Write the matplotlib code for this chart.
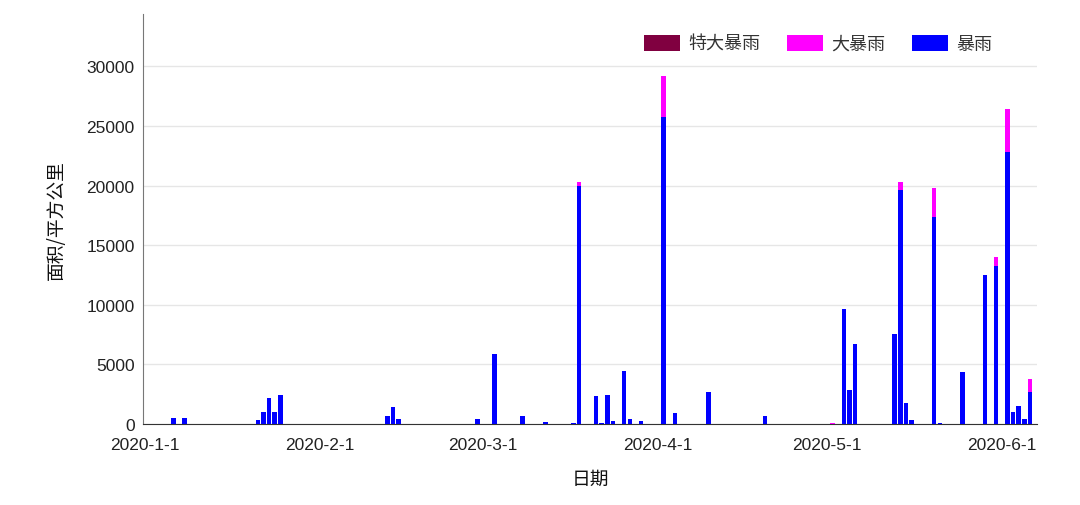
import pandas as pd
import matplotlib
matplotlib.use('Agg')
import matplotlib.pyplot as plt

# 日期 / 暴雨 / 大暴雨 / 特大暴雨 面积 (平方公里)
dates = ['2020-01-06', '2020-01-08', '2020-01-21', '2020-01-22', '2020-01-23',
         '2020-01-24', '2020-01-25', '2020-02-13', '2020-02-14', '2020-02-15',
         '2020-02-29', '2020-03-03', '2020-03-08', '2020-03-12', '2020-03-17',
         '2020-03-18', '2020-03-21', '2020-03-22', '2020-03-23', '2020-03-24',
         '2020-03-26', '2020-03-27', '2020-03-29', '2020-04-02', '2020-04-04',
         '2020-04-10', '2020-04-20', '2020-05-02', '2020-05-04', '2020-05-05',
         '2020-05-06', '2020-05-13', '2020-05-14', '2020-05-15', '2020-05-16',
         '2020-05-20', '2020-05-21', '2020-05-25', '2020-05-29', '2020-05-31',
         '2020-06-02', '2020-06-03', '2020-06-04', '2020-06-05', '2020-06-06']
baoyu = [480, 480, 300, 1000, 2200, 980, 2420, 700, 1450, 390,
         420, 5880, 670, 140, 100, 19950, 2320, 100, 2400, 230,
         4480, 420, 260, 25760, 900, 2710, 670, 0, 9680, 2880,
         6720, 7520, 19610, 1790, 330, 17350, 100, 4360, 12510, 13230,
         22820, 1030, 1510, 390, 2650]
dabaoyu = [0, 0, 0, 0, 0, 0, 0, 0, 0, 0,
           0, 0, 0, 0, 0, 340, 0, 0, 0, 0,
           0, 0, 0, 3440, 0, 0, 0, 60, 0, 0,
           0, 0, 680, 0, 0, 2490, 0, 0, 0, 790,
           3580, 0, 0, 0, 1150]
tedabaoyu = [0] * len(dates)

x_start = '2020-01-01'
x_end = '2020-06-07'
month_ticks = ['2020-01-01', '2020-02-01', '2020-03-01', '2020-04-01', '2020-05-01', '2020-06-01']

cjk = ['Noto Sans CJK SC', 'DejaVu Sans']
plt.rcParams['font.family'] = ['Liberation Sans', 'DejaVu Sans']

d = pd.to_datetime(dates)
bottom2 = [a + b for a, b in zip(baoyu, dabaoyu)]

fig = plt.figure(figsize=(10.8, 5.06), dpi=100)
ax = fig.add_axes([143 / 1080, 1 - 425 / 506, (1037 - 143) / 1080, (425 - 15) / 506])

w = 0.8
b1 = ax.bar(d, baoyu, width=w, color='#0000ff', label='暴雨', zorder=3)
b2 = ax.bar(d, dabaoyu, width=w, bottom=baoyu, color='#ff00ff', label='大暴雨', zorder=3)
b3 = ax.bar(d, tedabaoyu, width=w, bottom=bottom2, color='#800040', label='特大暴雨', zorder=3)

ax.set_xlim(pd.Timestamp(x_start) - pd.Timedelta(hours=9), pd.Timestamp(x_end) + pd.Timedelta(hours=6))
ax.set_ylim(0, 34400)
ax.set_yticks(range(0, 30001, 5000))
ticks = pd.to_datetime(month_ticks)
ax.set_xticks(ticks)
ax.set_xticklabels([f'{t.year}-{t.month}-{t.day}' for t in ticks])

ax.grid(axis='y', color='#e6e6e6', linewidth=1, zorder=0)
ax.spines['top'].set_visible(False)
ax.spines['right'].set_visible(False)
ax.spines['left'].set_color('#777777')
ax.spines['bottom'].set_color('#333333')
ax.tick_params(axis='both', length=0, labelsize=12.5, colors='#222222')
ax.tick_params(axis='y', pad=6)
ax.tick_params(axis='x', pad=9)

ax.set_xlabel('日期', family=cjk, fontsize=13.5, color='#111111', labelpad=12)
ax.set_ylabel('面积/平方公里', family=cjk, fontsize=13.5, color='#111111', labelpad=14)

leg = fig.legend([b3, b2, b1], ['特大暴雨', '大暴雨', '暴雨'], loc='center',
                 bbox_to_anchor=(818 / 1080, 1 - 45 / 506), ncol=3, frameon=False,
                 prop={'family': cjk, 'size': 13}, handlelength=2.0, handleheight=0.95,
                 handletextpad=0.45, columnspacing=1.5)
for t in leg.get_texts():
    t.set_color('#333333')

fig.savefig('out.png', dpi=100)
